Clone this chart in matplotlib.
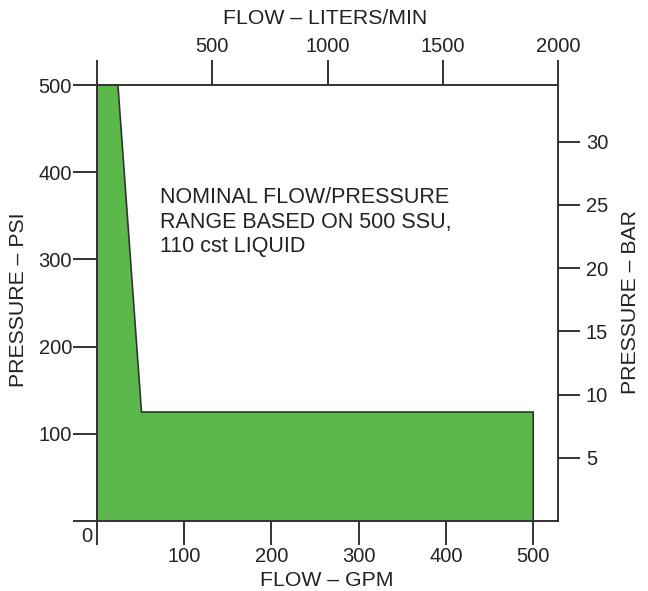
import numpy as np
import matplotlib.pyplot as plt

plt.rcParams['font.family'] = ['Liberation Sans', 'DejaVu Sans']

# operating envelope (GPM, PSI)
flow_gpm = [0, 0, 24, 51, 500, 500]
press_psi = [0, 500, 500, 125, 125, 0]

gpm_ticks = [0, 100, 200, 300, 400, 500]
psi_ticks = [0, 100, 200, 300, 400, 500]
lpm_ticks = [0, 500, 1000, 1500, 2000]
bar_ticks = [5, 10, 15, 20, 25, 30]

LPM_PER_GPM = 3.785
PSI_PER_BAR = 14.5038

ink = '#333333'
txt = '#222222'
green = '#5cb84a'

W, H = 648, 591
fig = plt.figure(figsize=(W/100, H/100), dpi=100)
ax = fig.add_axes([97/W, 1-521/H, (558-97)/W, (521-85)/H])

ax.fill(flow_gpm, press_psi, facecolor=green, edgecolor=ink, linewidth=1.2, zorder=2)

ax.set_xlim(0, 2000/LPM_PER_GPM)
ax.set_ylim(0, 500)

for s in ax.spines.values():
    s.set_color(ink)
    s.set_linewidth(1.4)

ax.set_xticks(gpm_ticks)
ax.set_xticklabels([''] + [str(t) for t in gpm_ticks[1:]])
ax.set_yticks(psi_ticks)
ax.set_yticklabels([''] + [str(t) for t in psi_ticks[1:]])
ax.tick_params(direction='out', length=17, width=1.4, color=ink,
               labelsize=14.5, labelcolor=txt)
ax.tick_params(axis='y', pad=1)
ax.tick_params(axis='x', pad=1.5)

top = ax.secondary_xaxis('top', functions=(lambda g: g*LPM_PER_GPM, lambda l: l/LPM_PER_GPM))
top.set_xticks(lpm_ticks)
top.set_xticklabels([''] + [str(t) for t in lpm_ticks[1:]])
top.tick_params(direction='out', length=18, width=1.4, color=ink,
                labelsize=14.5, labelcolor=txt, pad=3)
top.spines['top'].set_visible(False)

right = ax.secondary_yaxis('right', functions=(lambda p: p/PSI_PER_BAR, lambda b: b*PSI_PER_BAR))
right.set_yticks(bar_ticks)
right.tick_params(direction='out', length=16, width=1.4, color=ink,
                  labelsize=14.5, labelcolor=txt, pad=4)
right.spines['right'].set_visible(False)

ax.text(-0.022, -0.035, '0', transform=ax.transAxes, fontsize=14.5,
        color=txt, ha='center', va='center')

# axis titles placed in figure pixels
fig.text(327/W, 1-581/H, 'FLOW \u2013 GPM', fontsize=15.3, color=txt,
         ha='center', va='center')
fig.text(325/W, 1-19/H, 'FLOW \u2013 LITERS/MIN', fontsize=15.3, color=txt,
         ha='center', va='center')
fig.text(19/W, 1-300/H, 'PRESSURE \u2013 PSI', fontsize=15.3, color=txt,
         ha='center', va='center', rotation=90)
fig.text(630/W, 1-302/H, 'PRESSURE \u2013 BAR', fontsize=15.3, color=txt,
         ha='center', va='center', rotation=90)

ax.text(72, 383, 'NOMINAL FLOW/PRESSURE\nRANGE BASED ON 500 SSU,\n110 cst LIQUID',
        fontsize=15.5, color=txt, ha='left', va='top', linespacing=1.22)

fig.savefig('out.png', dpi=100)
